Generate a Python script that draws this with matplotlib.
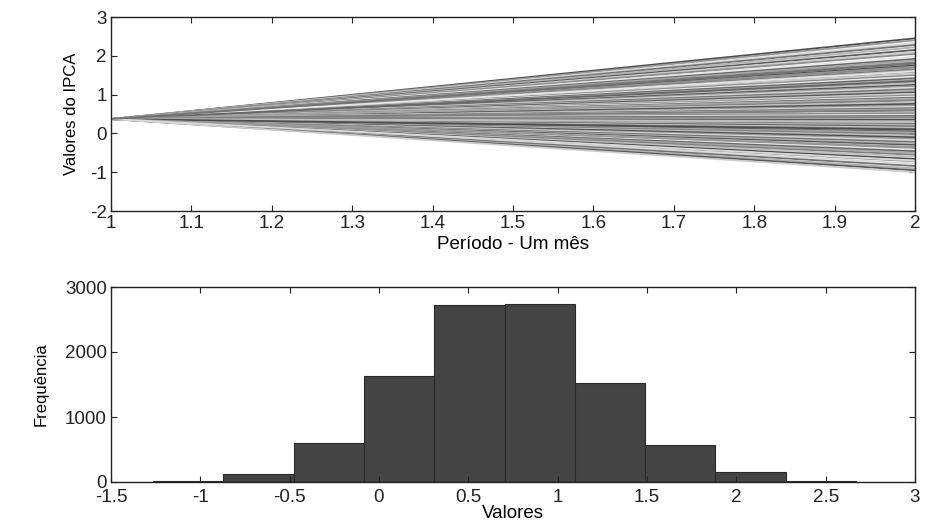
import matplotlib
matplotlib.use("Agg")
import matplotlib.pyplot as plt
import numpy as np

# ---- data ----
periods = [1, 2]
start_value = 0.37
end_values = [2.45, 2.40, 2.33, 2.28, 2.22, 2.15, 2.10, 2.05, 1.98, 1.92,
              1.88, 1.83, 1.78, 1.75, 1.72, 1.68, 1.65, 1.62, 1.58, 1.55,
              1.50, 1.46, 1.42, 1.38, 1.33, 1.30, 1.25, 1.22, 1.18, 1.14,
              1.10, 1.06, 1.02, 0.98, 0.95, 0.92, 0.88, 0.85, 0.80, 0.76,
              0.72, 0.68, 0.65, 0.62, 0.58, 0.55, 0.52, 0.48, 0.45, 0.42,
              0.40, 0.37, 0.35, 0.32, 0.28, 0.25, 0.22, 0.18, 0.15, 0.12,
              0.08, 0.05, 0.02, -0.02, -0.06, -0.10, -0.14, -0.18, -0.22, -0.26,
              -0.30, -0.34, -0.38, -0.42, -0.46, -0.50, -0.55, -0.60, -0.66, -0.72,
              -0.78, -0.84, -0.90, -0.95, -1.00,
              1.70, 1.60, 1.35, 0.90, 0.60, 0.30, 0.10, -0.35, -0.70, 1.80]

bin_edges = [-1.265, -0.871, -0.478, -0.084, 0.309, 0.703,
             1.096, 1.490, 1.883, 2.277, 2.670]
counts = [20, 128, 605, 1631, 2723, 2738, 1528, 569, 149, 20]

# ---- plot ----
plt.rcParams['font.family'] = ['Liberation Sans', 'DejaVu Sans']
plt.rcParams['axes.unicode_minus'] = False
fig = plt.figure(figsize=(9.25, 5.29), dpi=100)

ax1 = fig.add_axes([111/925, 1-211/529, 804/925, 194/529])
shades = [0.3, 0.6, 0.85, 0.45, 0.7, 0.35, 0.8, 0.55, 0.9, 0.4, 0.65, 0.5, 0.75]
for i, ev in enumerate(end_values):
    g = shades[i % len(shades)]
    ax1.plot(periods, [start_value, ev], color=(g, g, g), lw=1.3)
ax1.set_xlim(1, 2)
ax1.set_ylim(-2, 3)
ax1.set_xticks(np.arange(1, 2.01, 0.1))
ax1.set_xticklabels(['1', '1.1', '1.2', '1.3', '1.4', '1.5', '1.6', '1.7', '1.8', '1.9', '2'])
ax1.set_yticks([-2, -1, 0, 1, 2, 3])
ax1.set_xlabel('Período - Um mês', fontsize=13.5, labelpad=3)
ax1.set_ylabel('Valores do IPCA', fontsize=12, labelpad=8)

ax2 = fig.add_axes([111/925, 1-482/529, 804/925, 195/529])
ax2.bar(bin_edges[:-1], counts, width=np.diff(bin_edges), align='edge',
        color='#444444', edgecolor='#2a2a2a', linewidth=0.8)
ax2.set_xlim(-1.5, 3)
ax2.set_ylim(0, 3000)
ax2.set_xticks([-1.5, -1, -0.5, 0, 0.5, 1, 1.5, 2, 2.5, 3])
ax2.set_xticklabels(['-1.5', '-1', '-0.5', '0', '0.5', '1', '1.5', '2', '2.5', '3'])
ax2.set_yticks([0, 1000, 2000, 3000])
ax2.set_xlabel('Valores', fontsize=13.5, labelpad=-1)
ax2.set_ylabel('Frequência', fontsize=12, labelpad=12)

for ax in (ax1, ax2):
    ax.tick_params(direction='in', top=True, right=True, length=4,
                   labelsize=13.5, colors='#222222', pad=3)
    for s in ax.spines.values():
        s.set_color('#222222')
        s.set_linewidth(1.0)
ax2.tick_params(axis='x', pad=5)

fig.savefig('out.png', dpi=100)
